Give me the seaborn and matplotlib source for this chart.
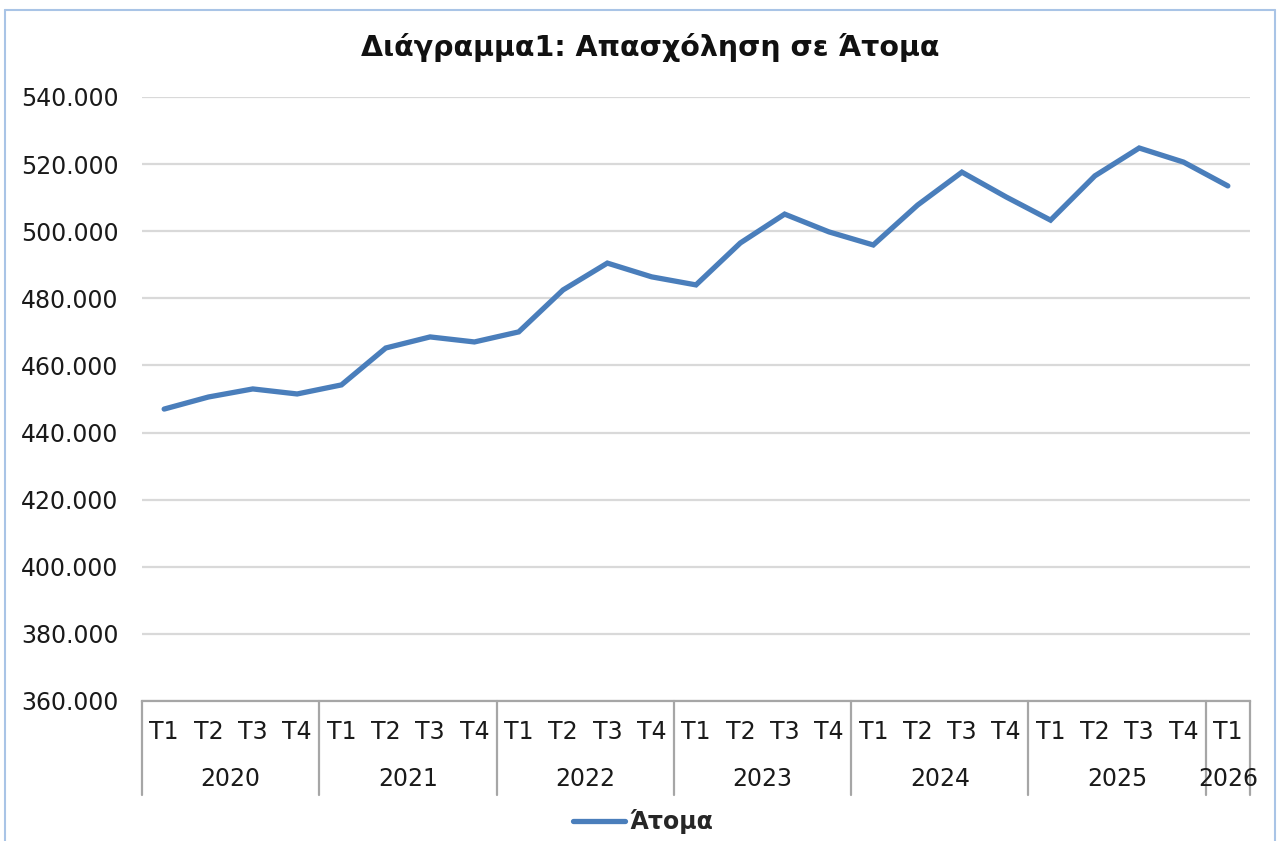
import matplotlib
matplotlib.use("Agg")
import matplotlib.pyplot as plt
import matplotlib.ticker as mticker
from matplotlib.lines import Line2D
import seaborn as sns
import pandas as pd

# Δεδομένα (εκτίμηση από το διάγραμμα)
years = ["2020", "2021", "2022", "2023", "2024", "2025", "2026"]
quarters_per_year = [4, 4, 4, 4, 4, 4, 1]
quarter_labels = ["T1", "T2", "T3", "T4"] * 6 + ["T1"]
atoma = [447000, 450600, 453000, 451500,
         454200, 465200, 468500, 467000,
         470000, 482500, 490500, 486400,
         484000, 496500, 505100, 499800,
         495900, 507800, 517600, 510200,
         503300, 516500, 524800, 520600,
         513500]

df = pd.DataFrame({"idx": range(len(atoma)), "Άτομα": atoma})

sns.set_style("white")
plt.rcParams["font.family"] = ["DejaVu Sans"]

fig = plt.figure(figsize=(12.79, 8.41), dpi=100)
W, H = 1279, 841
ax = fig.add_axes([142 / W, 140 / H, (1250 - 142) / W, (701 - 97) / H])

blue = "#4a7ebb"
grey = "#a6a6a6"

sns.lineplot(data=df, x="idx", y="Άτομα", ax=ax, color=blue, linewidth=3.8,
             solid_joinstyle="miter", label="Άτομα", legend=False)

ax.set_ylim(360000, 540000)
ax.set_xlim(-0.5, len(atoma) - 0.5)
ax.yaxis.set_major_locator(mticker.MultipleLocator(20000))
ax.yaxis.set_major_formatter(mticker.FuncFormatter(lambda v, p: f"{int(v):,}".replace(",", ".")))
ax.grid(axis="y", color="#d9d9d9", linewidth=1.6)
ax.set_axisbelow(True)
for s in ["left", "top", "right"]:
    ax.spines[s].set_visible(False)
ax.spines["bottom"].set_color(grey)
ax.spines["bottom"].set_linewidth(1.6)

ax.set_xticks(range(len(atoma)))
ax.set_xticklabels(quarter_labels)
ax.tick_params(axis="x", length=0, pad=14, labelsize=17, labelcolor="#1a1a1a")
ax.tick_params(axis="y", length=0, pad=17, labelsize=17, labelcolor="#1a1a1a")
ax.set_xlabel("")
ax.set_ylabel("")

# Ομαδοποίηση ανά έτος
trans = ax.get_xaxis_transform()
axh = 701 - 97
start = 0
bounds = [-0.5]
for yr, n in zip(years, quarters_per_year):
    ax.text(start + (n - 1) / 2, -(779 - 701) / axh, yr, transform=trans,
            ha="center", va="center", fontsize=17, color="#1a1a1a")
    start += n
    bounds.append(start - 0.5)
for b in bounds:
    ax.plot([b, b], [0, -(795 - 701) / axh], transform=trans, color=grey,
            linewidth=1.6, clip_on=False)

fig.text(650 / W, 1 - 47 / H, "Διάγραμμα1: Απασχόληση σε Άτομα",
         ha="center", va="center", fontsize=20.5, fontweight="bold", color="#111111")

handle = Line2D([], [], color=blue, linewidth=3.8)
fig.legend([handle], ["Άτομα"], loc="center", bbox_to_anchor=(643 / W, 1 - 822 / H),
           frameon=False, handlelength=2.2, handletextpad=0.2,
           prop={"size": 17, "weight": "bold"})

# Πλαίσιο γραφήματος
bc = "#a9c4e6"
fig.add_artist(Line2D([5 / W, 5 / W], [0, 1 - 10 / H], color=bc, linewidth=1.5))
fig.add_artist(Line2D([5 / W, 1275 / W], [1 - 10 / H, 1 - 10 / H], color=bc, linewidth=1.5))
fig.add_artist(Line2D([1275 / W, 1275 / W], [0, 1 - 10 / H], color=bc, linewidth=1.5))

fig.savefig("out.png", dpi=100, facecolor="white")
